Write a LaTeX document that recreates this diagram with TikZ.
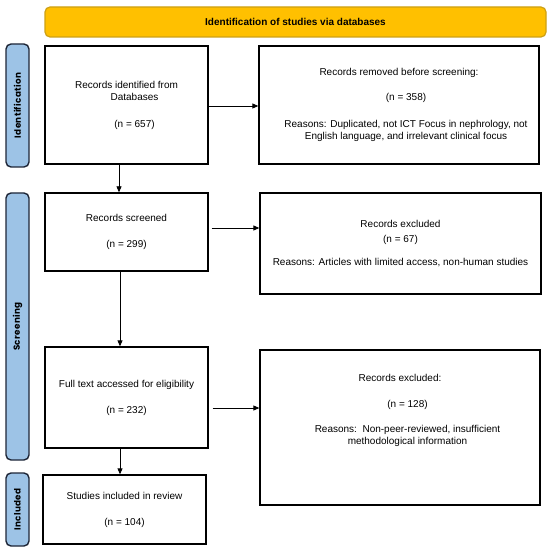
\documentclass[tikz,border=0pt]{standalone}
\usepackage{fontspec}
\setmainfont{Liberation Sans}
\newfontfamily\sidefont{Poppins}[LetterSpace=4]
\usetikzlibrary{arrows.meta}
\definecolor{bannergold}{RGB}{255,192,0}
\definecolor{bannerline}{RGB}{205,160,20}
\definecolor{sidefill}{RGB}{157,195,230}
\definecolor{sideline}{RGB}{30,38,55}
\tikzset{
  box/.style={draw=black, line width=1.3pt, fill=white, align=center, inner sep=2pt,
    font=\fontsize{10}{11.5}\selectfont},
  txt/.style={align=center, inner sep=0pt, font=\fontsize{10}{11.5}\selectfont},
  banner/.style={draw=bannerline, line width=1.2pt, fill=bannergold, rounded corners=5pt,
    font=\fontsize{10}{12}\selectfont\bfseries, minimum width=501pt, minimum height=30pt},
  side/.style={draw=sideline, line width=1.4pt, fill=sidefill, rounded corners=5pt,
    minimum width=23pt, rotate=90, font=\sidefont\bfseries\fontsize{8.8}{10}\selectfont},
  arr/.style={draw=black, line width=0.8pt, -{Triangle[length=6pt,width=5pt]}}
}
\begin{document}
\begin{tikzpicture}[x=1pt,y=-1pt]
\useasboundingbox[fill=white] (0,0) rectangle (550,553);
% banner
\node[banner] (ban) at (295.5,22) {Identification of studies via databases};
% side bars (rotated: minimum height is along x, minimum width along y)
\node[side, minimum width=123pt, minimum height=23pt] (sid) at (17.5,105.5) {Identification};
\node[side, minimum width=267pt, minimum height=23pt] (sscr) at (17.5,326.5) {Screening};
\node[side, minimum width=73pt, minimum height=23pt] (sinc) at (17.5,509.5) {Included};
% boxes
\node[box, minimum width=163pt, minimum height=118pt] (A) at (126.5,105)
  {Records identified from\\[0.5pt]\hspace*{16pt}Databases\\[15.5pt]\hspace*{16pt}(n = 657)};
\node[box, minimum width=280pt, minimum height=118pt] (B) at (399,105)
  {Records removed before screening:\\[13.5pt]\hspace*{14pt}(n = 358)\\[15.5pt]
   \hspace*{14pt}Reasons: Duplicated, not ICT Focus in nephrology, not\\
   \hspace*{14pt}English language, and irrelevant clinical focus};
\node[box, minimum width=163pt, minimum height=78pt] (C) at (126.5,232)
  {Records screened\\[14.5pt](n = 299)};
\node[box, minimum width=281pt, minimum height=101pt] (D) at (400.5,243.5)
  {Records excluded\\[3.5pt](n = 67)\\[11.5pt]Reasons: Articles with limited access, non-human studies};
\node[box, minimum width=163pt, minimum height=101pt] (E) at (126.5,397.5)
  {Full text accessed for eligibility\\[14.5pt](n = 232)};
\node[box, minimum width=280pt, minimum height=155pt] (F) at (400,427.5) {};
\node[txt] (Ft) at (400,410.5)
  {Records excluded:\\[14.5pt]\hspace*{15pt}(n = 128)\\[13.5pt]
   \hspace*{15pt}Reasons:\ \ Non-peer-reviewed, insufficient\\
   \hspace*{15pt}methodological information};
\node[box, minimum width=163pt, minimum height=69pt] (G) at (124.5,509.5)
  {Studies included in review\\[14.5pt](n = 104)};
% connectors
\draw[arr] ([yshift=-1pt]A.east) -- ([yshift=-1pt]A.east -| B.west);
\draw[arr] ([xshift=3pt,yshift=4pt]C.east) -- ([yshift=4pt]C.east -| D.west);
\draw[arr] ([xshift=4pt,yshift=-10.5pt]E.east) -- ([yshift=-10.5pt]E.east -| F.west);
\draw[arr] ([xshift=-7.5pt]A.south) -- ([xshift=-7.5pt]A.south |- C.north);
\draw[arr] ([xshift=-6.5pt]C.south) -- ([xshift=-6.5pt]C.south |- E.north);
\draw[arr] ([xshift=-6.5pt]E.south) -- ([xshift=-6.5pt]E.south |- G.north);
\end{tikzpicture}
\end{document}
